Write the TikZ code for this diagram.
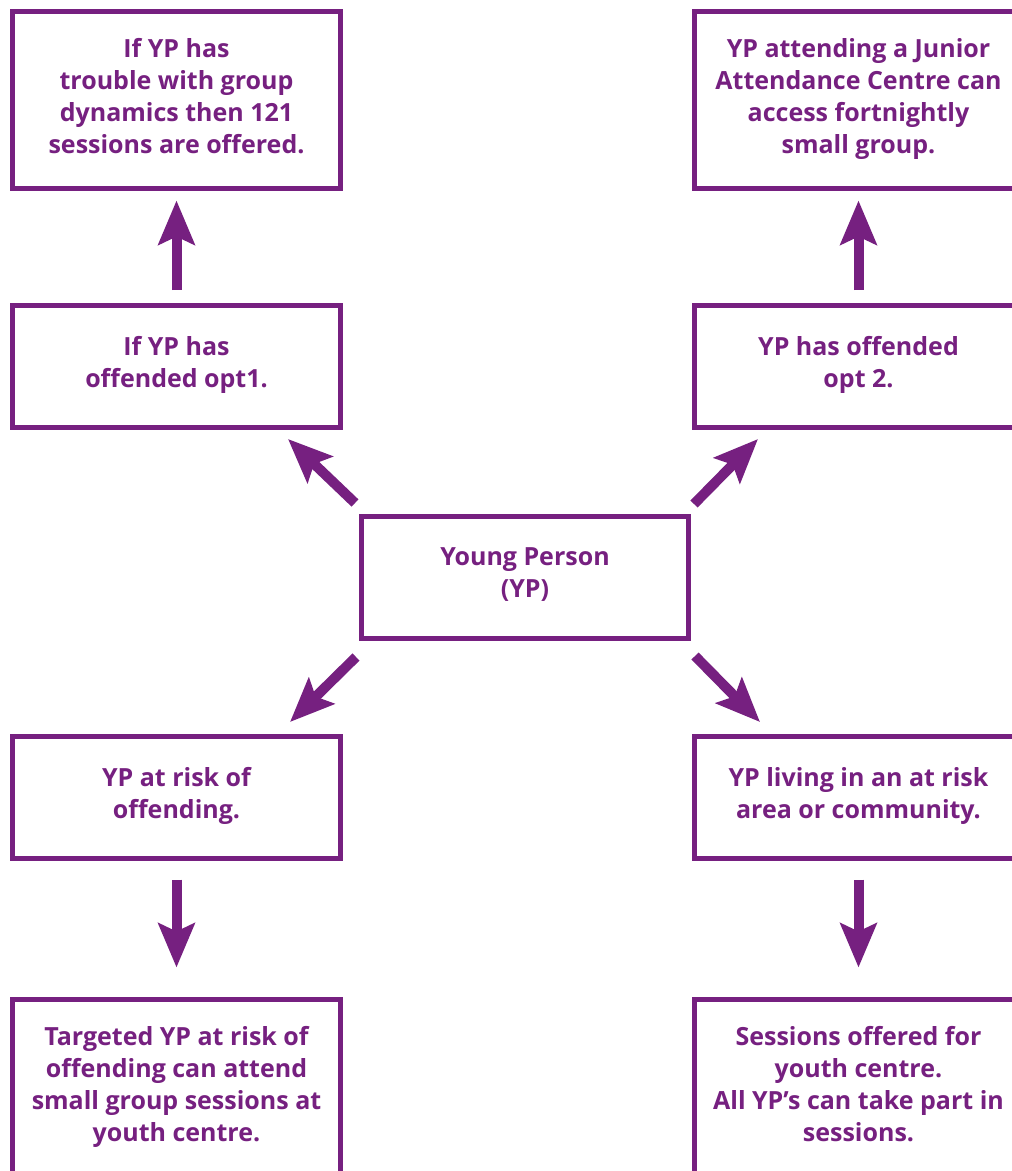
\documentclass[tikz,border=0pt]{standalone}
\usepackage{fontspec}
\setmainfont{Open Sans}
\usetikzlibrary{arrows.meta}
\definecolor{yppurple}{RGB}{118,32,128}
\begin{document}
\begin{tikzpicture}[x=1pt,y=-1pt,
  box/.style={draw=yppurple, line width=5pt, rectangle, inner sep=0pt,
    minimum width=328pt, text=yppurple, align=center, text depth=9pt,
    font=\fontsize{25pt}{32pt}\selectfont\bfseries},
  tall/.style={box, minimum height=177pt},
  short/.style={box, minimum height=122pt},
  bigarrow/.style={draw=yppurple, line width=10pt,
    -{Stealth[length=44pt,width=36pt,inset=8pt]}}]
\useasboundingbox (0,0) rectangle (1012,1171);
\clip (0,0) rectangle (1012,1171);
\fill[white] (0,0) rectangle (1012,1171);
% boxes
\node[tall]  (tl) at (176.5,100) {If YP has\\trouble with group\\dynamics then 121\\sessions are offered.};
\node[tall]  (tr) at (858.5,100) {YP attending a Junior\\Attendance Centre can\\access fortnightly\\small group.};
\node[short] (ml) at (176.5,366.5) {If YP has\\offended opt1.};
\node[short] (mr) at (858.5,366.5) {YP has offended\\opt 2.};
\node[short, minimum width=327pt] (yp) at (525,577.5) {Young Person\\(YP)};
\node[short] (rl) at (176.5,797.5) {YP at risk of\\offending.};
\node[short] (rr) at (858.5,797.5) {YP living in an at risk\\area or community.};
\node[tall]  (bl) at (176.5,1088) {Targeted YP at risk of\\offending can attend\\small group sessions at\\youth centre.};
\node[tall]  (br) at (858.5,1088) {Sessions offered for\\youth centre.\\All YP’s can take part in\\sessions.};
% arrow end points
\coordinate (ulS) at (355,503);
\coordinate (ulE) at (288,439);
\coordinate (urS) at (694,504);
\coordinate (urE) at (758,439);
\coordinate (llS) at (356,657);
\coordinate (llE) at (290,722);
\coordinate (lrS) at (695,656);
\coordinate (lrE) at (760,722);
% arrows
\draw[bigarrow] ([yshift=13pt]ml.north) -- ([yshift=-9.5pt]tl.south);
\draw[bigarrow] ([yshift=13pt]mr.north) -- ([yshift=-9.5pt]tr.south);
\draw[bigarrow] ([yshift=-18.5pt]rl.south) -- ([yshift=29.5pt]bl.north);
\draw[bigarrow] ([yshift=-18.5pt]rr.south) -- ([yshift=29.5pt]br.north);
\draw[bigarrow] (ulS) -- (ulE);
\draw[bigarrow] (urS) -- (urE);
\draw[bigarrow] (llS) -- (llE);
\draw[bigarrow] (lrS) -- (lrE);
\end{tikzpicture}
\end{document}
